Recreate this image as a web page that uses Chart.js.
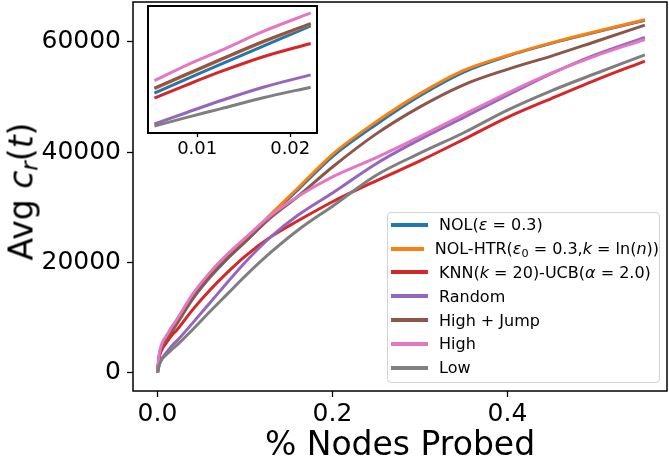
<!DOCTYPE html>
<html>
<head>
<meta charset="utf-8">
<script src="https://cdn.jsdelivr.net/npm/chart.js@4.4.1/dist/chart.umd.min.js"></script>
<style>
  html, body { margin: 0; padding: 0; background: #fff; }
  body { width: 669px; height: 458px; position: relative; overflow: hidden; font-family: 'DejaVu Sans', sans-serif; color: #000; }
  canvas { position: absolute; }
  #main { left: 0; top: 0; }
  #inset { left: 140px; top: 0; }
  #ytitle { position: absolute; left: -79.5px; top: 174.5px; width: 200px; height: 33px; line-height: 33px;
            font-size: 33px; text-align: center; white-space: nowrap; transform: rotate(-90deg); }
  #ytitle sub { font-size: 0.7em; line-height: 0; vertical-align: -0.22em; }
  #xtitle { position: absolute; left: 133px; top: 427px; width: 534px; height: 33px; line-height: 33px;
            font-size: 33px; text-align: center; white-space: nowrap; }
  #legend { position: absolute; left: 387px; top: 212px; width: 273px; height: 171px; box-sizing: border-box;
            border: 1px solid #d4d4d4; border-radius: 4px; background: rgba(255,255,255,0.8); font-size: 16px; }
  .row { height: 23.8px; display: flex; align-items: center; white-space: nowrap; }
  .swatch { display: inline-block; width: 37px; height: 4px; margin-left: 3px; margin-right: 11px; }
  .row sub { font-size: 0.7em; line-height: 0; vertical-align: -0.25em; }
</style>
</head>
<body>
<canvas id="main" width="669" height="458"></canvas>
<canvas id="inset" width="190" height="165"></canvas>
<div id="ytitle">Avg <i>c</i><sub><i>r</i></sub>(<i>t</i>)</div>
<div id="xtitle">% Nodes Probed</div>
<div id="legend"></div>
<script>
// fraction of nodes probed (x)
const probed = [0, 0.002, 0.0054, 0.0089, 0.0125, 0.0171, 0.0222, 0.04, 0.06, 0.08, 0.1, 0.13, 0.16, 0.2, 0.25, 0.3, 0.35, 0.4, 0.45, 0.5, 0.557];

// avg c_r(t) per strategy
const nol      = [0, 2900, 4620, 5520, 6450, 7600, 8880, 13300, 17300, 20700, 23700, 28600, 33100, 39200, 45000, 50200, 54500, 57400, 59700, 61700, 63900];
const nolHtr   = [0, 3050, 4890, 5800, 6720, 7860, 8990, 13500, 17500, 20900, 23900, 28800, 33400, 39600, 45500, 50600, 54800, 57500, 59800, 61800, 64000];
const knnUcb   = [0, 2800, 4310, 5150, 5980, 6930, 7770, 11400, 15000, 18200, 21100, 24700, 27500, 31000, 34800, 38400, 42300, 46300, 49700, 53000, 56500];
const random   = [0, 1450, 2670, 3400, 4140, 5000, 5780, 9000, 12700, 16400, 20000, 24700, 28500, 32600, 37900, 42300, 46300, 50300, 54200, 57600, 60800];
const highJump = [0, 3100, 4940, 5840, 6760, 7900, 9030, 13500, 17500, 20800, 23700, 28200, 31900, 37300, 43300, 48200, 52200, 55000, 57400, 60000, 63000];
const high     = [0, 3400, 5420, 6400, 7310, 8530, 9700, 14200, 18200, 21500, 24400, 28600, 31900, 35500, 39000, 42800, 46800, 50700, 54300, 57400, 60400];
const low      = [0, 1400, 2540, 3090, 3630, 4330, 5000, 7800, 11100, 14300, 17500, 21900, 25800, 30200, 35800, 39800, 43500, 47600, 51100, 54200, 57600];

const seriesNames = [
  'NOL(<i>ε</i> = 0.3)',
  'NOL-HTR(<i>ε</i><sub>0</sub> = 0.3,<i>k</i> = ln(<i>n</i>))',
  'KNN(<i>k</i> = 20)-UCB(<i>α</i> = 2.0)',
  'Random',
  'High + Jump',
  'High',
  'Low'
];
const seriesValues = [nol, nolHtr, knnUcb, random, highJump, high, low];
const colors = ['#1f77b4', '#ff7f0e', '#d62728', '#9467bd', '#8c564b', '#e377c2', '#7f7f7f'];

const xTicks = [0, 0.2, 0.4];
const yTicks = [0, 20000, 40000, 60000];
const insetTicks = [0.01, 0.02];
const insetWindow = [0.005, 0.023];

Chart.defaults.font.family = "'DejaVu Sans', sans-serif";
Chart.defaults.color = '#000';

function buildDatasets(filter) {
    return seriesValues.map((vals, i) => {
        let pts = probed.map((x, j) => ({ x: x, y: vals[j] }));
        if (filter) pts = pts.filter(p => p.x >= filter[0] && p.x <= filter[1]);
        return {
            label: seriesNames[i],
            data: pts,
            borderColor: colors[i],
            backgroundColor: colors[i],
            borderWidth: 3,
            pointRadius: 0,
            fill: false,
            cubicInterpolationMode: 'monotone',
            order: seriesValues.length - 1 - i   // later series drawn on top, like matplotlib
        };
    });
}

function framePlugin(width, fillBg) {
    return {
        id: 'frame',
        beforeDatasetsDraw(chart) {
            if (!fillBg) return;
            const a = chart.chartArea, ctx = chart.ctx;
            ctx.save();
            ctx.fillStyle = '#fff';
            ctx.fillRect(a.left, a.top, a.right - a.left, a.bottom - a.top);
            ctx.restore();
        },
        afterDraw(chart) {
            const a = chart.chartArea, ctx = chart.ctx;
            ctx.save();
            ctx.strokeStyle = '#000';
            ctx.lineWidth = width;
            ctx.strokeRect(a.left, a.top, a.right - a.left, a.bottom - a.top);
            ctx.restore();
        }
    };
}

function fixX(h) {
    return s => { s.height = h; s.paddingLeft = 0; s.paddingRight = 0; };
}
function fixY(w) {
    return s => { s.width = w; s.paddingTop = 0; s.paddingBottom = 0; };
}

const mainChart = new Chart(document.getElementById('main'), {
    type: 'line',
    data: { datasets: buildDatasets(null) },
    options: {
        responsive: false,
        animation: false,
        devicePixelRatio: 1,
        layout: { padding: { left: 0, top: 2, right: 2, bottom: 0 } },
        plugins: { legend: { display: false }, tooltip: { enabled: false } },
        scales: {
            x: {
                type: 'linear', min: -0.028, max: 0.5823,
                afterFit: fixX(67),
                afterBuildTicks: s => { s.ticks = xTicks.map(v => ({ value: v })); },
                grid: { drawOnChartArea: false, tickLength: 6, color: '#000', tickWidth: 1.3 },
                border: { display: false },
                ticks: { font: { size: 25 }, padding: 2, maxRotation: 0, callback: v => v.toFixed(1) }
            },
            y: {
                type: 'linear', min: -3300, max: 67200,
                afterFit: fixY(133),
                afterBuildTicks: s => { s.ticks = yTicks.map(v => ({ value: v })); },
                grid: { drawOnChartArea: false, tickLength: 6, color: '#000', tickWidth: 1.3 },
                border: { display: false },
                ticks: { font: { size: 25 }, padding: 6, callback: v => String(v) }
            }
        }
    },
    plugins: [framePlugin(1.5, false)]
});

const insetChart = new Chart(document.getElementById('inset'), {
    type: 'line',
    data: { datasets: buildDatasets(insetWindow) },
    options: {
        responsive: false,
        animation: false,
        devicePixelRatio: 1,
        layout: { padding: { left: 8, top: 6, right: 13, bottom: 0 } },
        plugins: { legend: { display: false }, tooltip: { enabled: false } },
        scales: {
            x: {
                type: 'linear', min: 0.00471, max: 0.02288,
                afterFit: fixX(32),
                afterBuildTicks: s => { s.ticks = insetTicks.map(v => ({ value: v })); },
                grid: { drawOnChartArea: false, tickLength: 4, color: '#000', tickWidth: 1.3 },
                border: { display: false },
                ticks: { font: { size: 18 }, padding: 2, maxRotation: 0, callback: v => v.toFixed(2) }
            },
            y: { type: 'linear', min: 2100, max: 10140, display: false }
        }
    },
    plugins: [framePlugin(2, true)]
});

// legend drawn from the chart datasets
const legendEl = document.getElementById('legend');
mainChart.data.datasets.forEach(ds => {
    const row = document.createElement('div');
    row.className = 'row';
    row.innerHTML = `<span class="swatch" style="background:${ds.borderColor}"></span><span>${ds.label}</span>`;
    legendEl.appendChild(row);
});
</script>
</body>
</html>
